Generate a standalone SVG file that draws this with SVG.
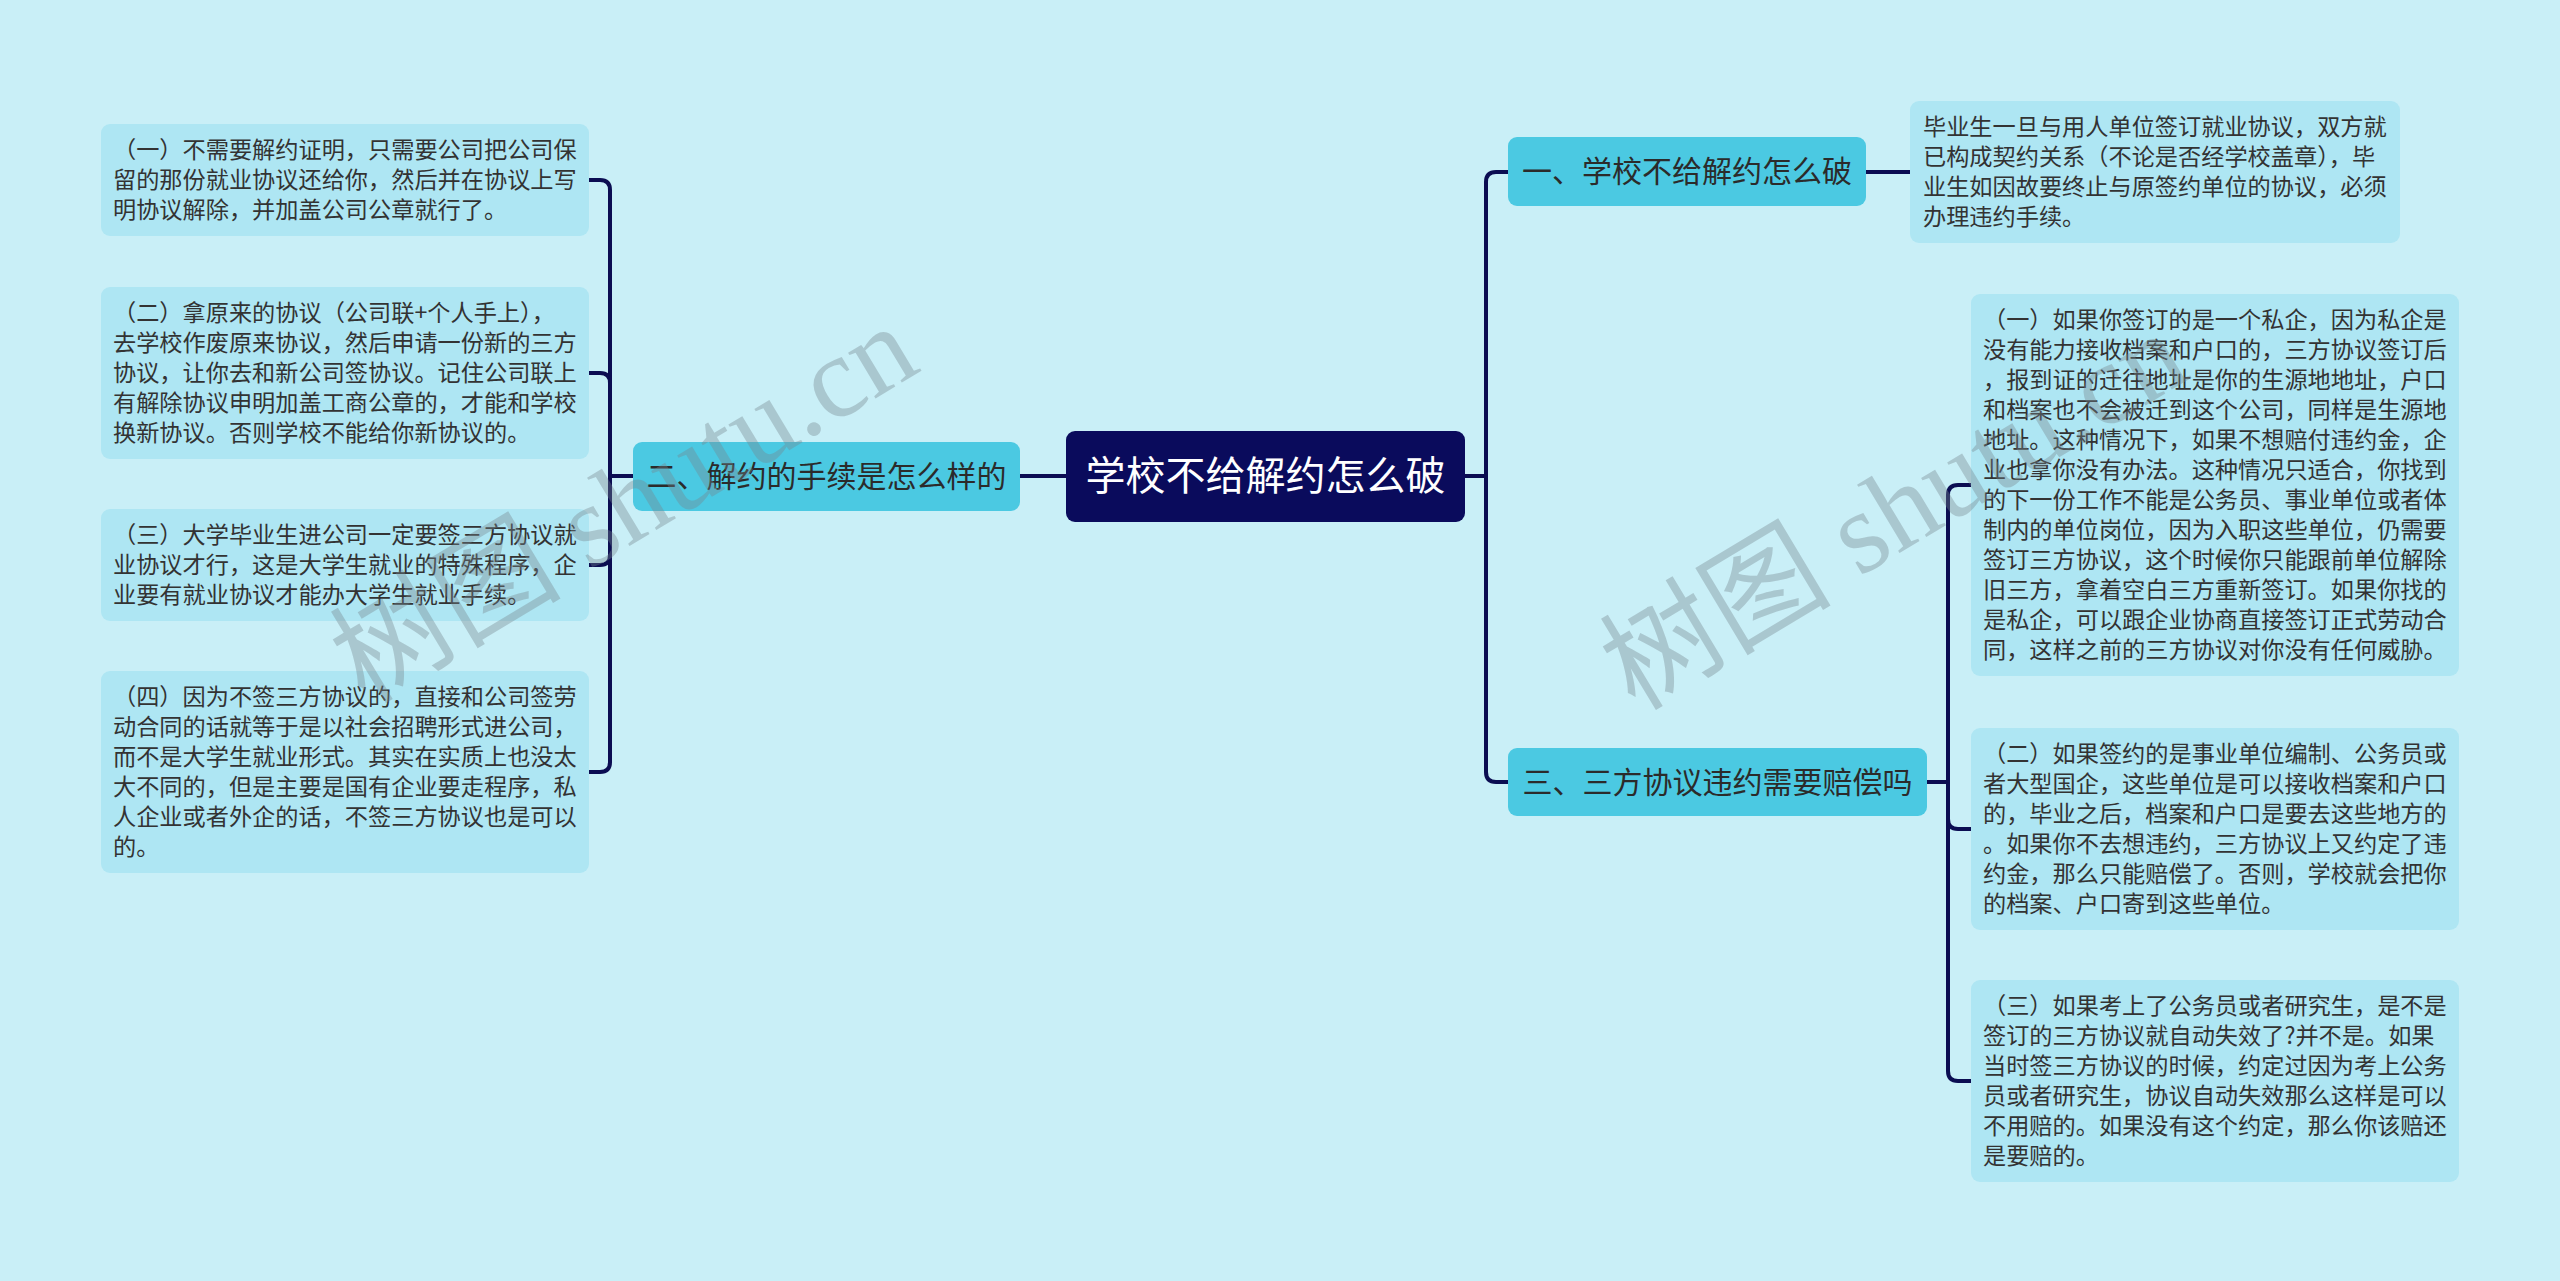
<svg xmlns="http://www.w3.org/2000/svg" width="2560" height="1281" viewBox="0 0 2560 1281">
<style>
.bg{fill:#c9eff7}
.leaf{fill:#aee6f3}
.l1{fill:#4bc9e2}
.root{fill:#0a0b5c}
.lt{font-family:"Noto Sans CJK SC","Noto Sans",sans-serif;font-size:23.2px;fill:#333333}
.t1{font-family:"Noto Sans CJK SC","Noto Sans",sans-serif;font-size:30px;fill:#2b2b2b;text-anchor:middle}
.tr{font-family:"Noto Sans CJK SC","Noto Sans",sans-serif;font-size:40px;fill:#ffffff;text-anchor:middle}
.conn path{fill:none;stroke:#0b0d52;stroke-width:4}
.wm{font-family:"Liberation Serif","Noto Sans CJK SC",serif;font-size:116px;fill:#75878d;fill-opacity:0.38}
</style>
<rect class="bg" x="0" y="0" width="2560" height="1281"/>
<g class="conn" id="connectors">
<path d="M1066,476 H1020"/>
<path d="M633,476 H610 V190 Q610,180 600,180 H589"/>
<path d="M633,476 H610 V383 Q610,373 600,373 H589"/>
<path d="M633,476 H610 V555 Q610,565 600,565 H589"/>
<path d="M633,476 H610 V762 Q610,772 600,772 H589"/>
<path d="M1465,476 H1486 V182 Q1486,172 1496,172 H1508"/>
<path d="M1465,476 H1486 V772 Q1486,782 1496,782 H1508"/>
<path d="M1866,172 H1910"/>
<path d="M1927,782 H1948 V495 Q1948,485 1958,485 H1971"/>
<path d="M1927,782 H1948 V819 Q1948,829 1958,829 H1971"/>
<path d="M1927,782 H1948 V1071 Q1948,1081 1958,1081 H1971"/>
</g>
<g id="root">
<rect class="root" x="1066" y="431" width="399" height="91" rx="9"/>
<text class="tr" x="1265.5" y="490">学校不给解约怎么破</text>
</g>
<g id="n2">
<rect class="l1" x="633" y="442" width="387" height="69" rx="9"/>
<text class="t1" x="826.5" y="487">二、解约的手续是怎么样的</text>
</g>
<g id="n1">
<rect class="l1" x="1508" y="137" width="358" height="69" rx="9"/>
<text class="t1" x="1687" y="182">一、学校不给解约怎么破</text>
</g>
<g id="n3">
<rect class="l1" x="1508" y="748" width="419" height="68" rx="9"/>
<text class="t1" x="1717.5" y="793">三、三方协议违约需要赔偿吗</text>
</g>
<g id="leaf-l1">
<rect class="leaf" x="101" y="124" width="488" height="112" rx="9"/>
<text class="lt"><tspan x="113" y="158">（一）不需要解约证明，只需要公司把公司保</tspan><tspan x="113" y="188">留的那份就业协议还给你，然后并在协议上写</tspan><tspan x="113" y="218">明协议解除，并加盖公司公章就行了。</tspan></text>
</g>
<g id="leaf-l2">
<rect class="leaf" x="101" y="287" width="488" height="172" rx="9"/>
<text class="lt"><tspan x="113" y="321">（二）拿原来的协议（公司联+个人手上），</tspan><tspan x="113" y="351">去学校作废原来协议，然后申请一份新的三方</tspan><tspan x="113" y="381">协议，让你去和新公司签协议。记住公司联上</tspan><tspan x="113" y="411">有解除协议申明加盖工商公章的，才能和学校</tspan><tspan x="113" y="441">换新协议。否则学校不能给你新协议的。</tspan></text>
</g>
<g id="leaf-l3">
<rect class="leaf" x="101" y="509" width="488" height="112" rx="9"/>
<text class="lt"><tspan x="113" y="543">（三）大学毕业生进公司一定要签三方协议就</tspan><tspan x="113" y="573">业协议才行，这是大学生就业的特殊程序，企</tspan><tspan x="113" y="603">业要有就业协议才能办大学生就业手续。</tspan></text>
</g>
<g id="leaf-l4">
<rect class="leaf" x="101" y="671" width="488" height="202" rx="9"/>
<text class="lt"><tspan x="113" y="705">（四）因为不签三方协议的，直接和公司签劳</tspan><tspan x="113" y="735">动合同的话就等于是以社会招聘形式进公司，</tspan><tspan x="113" y="765">而不是大学生就业形式。其实在实质上也没太</tspan><tspan x="113" y="795">大不同的，但是主要是国有企业要走程序，私</tspan><tspan x="113" y="825">人企业或者外企的话，不签三方协议也是可以</tspan><tspan x="113" y="855">的。</tspan></text>
</g>
<g id="leaf-r0">
<rect class="leaf" x="1910" y="101" width="490" height="142" rx="9"/>
<text class="lt"><tspan x="1923" y="135">毕业生一旦与用人单位签订就业协议，双方就</tspan><tspan x="1923" y="165">已构成契约关系（不论是否经学校盖章），毕</tspan><tspan x="1923" y="195">业生如因故要终止与原签约单位的协议，必须</tspan><tspan x="1923" y="225">办理违约手续。</tspan></text>
</g>
<g id="leaf-r1">
<rect class="leaf" x="1971" y="294" width="488" height="382" rx="9"/>
<text class="lt"><tspan x="1983" y="328">（一）如果你签订的是一个私企，因为私企是</tspan><tspan x="1983" y="358">没有能力接收档案和户口的，三方协议签订后</tspan><tspan x="1983" y="388">，报到证的迁往地址是你的生源地地址，户口</tspan><tspan x="1983" y="418">和档案也不会被迁到这个公司，同样是生源地</tspan><tspan x="1983" y="448">地址。这种情况下，如果不想赔付违约金，企</tspan><tspan x="1983" y="478">业也拿你没有办法。这种情况只适合，你找到</tspan><tspan x="1983" y="508">的下一份工作不能是公务员、事业单位或者体</tspan><tspan x="1983" y="538">制内的单位岗位，因为入职这些单位，仍需要</tspan><tspan x="1983" y="568">签订三方协议，这个时候你只能跟前单位解除</tspan><tspan x="1983" y="598">旧三方，拿着空白三方重新签订。如果你找的</tspan><tspan x="1983" y="628">是私企，可以跟企业协商直接签订正式劳动合</tspan><tspan x="1983" y="658">同，这样之前的三方协议对你没有任何威胁。</tspan></text>
</g>
<g id="leaf-r2">
<rect class="leaf" x="1971" y="728" width="488" height="202" rx="9"/>
<text class="lt"><tspan x="1983" y="762">（二）如果签约的是事业单位编制、公务员或</tspan><tspan x="1983" y="792">者大型国企，这些单位是可以接收档案和户口</tspan><tspan x="1983" y="822">的，毕业之后，档案和户口是要去这些地方的</tspan><tspan x="1983" y="852">。如果你不去想违约，三方协议上又约定了违</tspan><tspan x="1983" y="882">约金，那么只能赔偿了。否则，学校就会把你</tspan><tspan x="1983" y="912">的档案、户口寄到这些单位。</tspan></text>
</g>
<g id="leaf-r3">
<rect class="leaf" x="1971" y="980" width="488" height="202" rx="9"/>
<text class="lt"><tspan x="1983" y="1014">（三）如果考上了公务员或者研究生，是不是</tspan><tspan x="1983" y="1044">签订的三方协议就自动失效了?并不是。如果</tspan><tspan x="1983" y="1074">当时签三方协议的时候，约定过因为考上公务</tspan><tspan x="1983" y="1104">员或者研究生，协议自动失效那么这样是可以</tspan><tspan x="1983" y="1134">不用赔的。如果没有这个约定，那么你该赔还</tspan><tspan x="1983" y="1164">是要赔的。</tspan></text>
</g>
<g id="watermarks">
<text class="wm" transform="translate(365,705) rotate(-31)">树图 shutu.cn</text>
<text class="wm" transform="translate(1635,712) rotate(-31)">树图 shutu.cn</text>
</g>
</svg>
